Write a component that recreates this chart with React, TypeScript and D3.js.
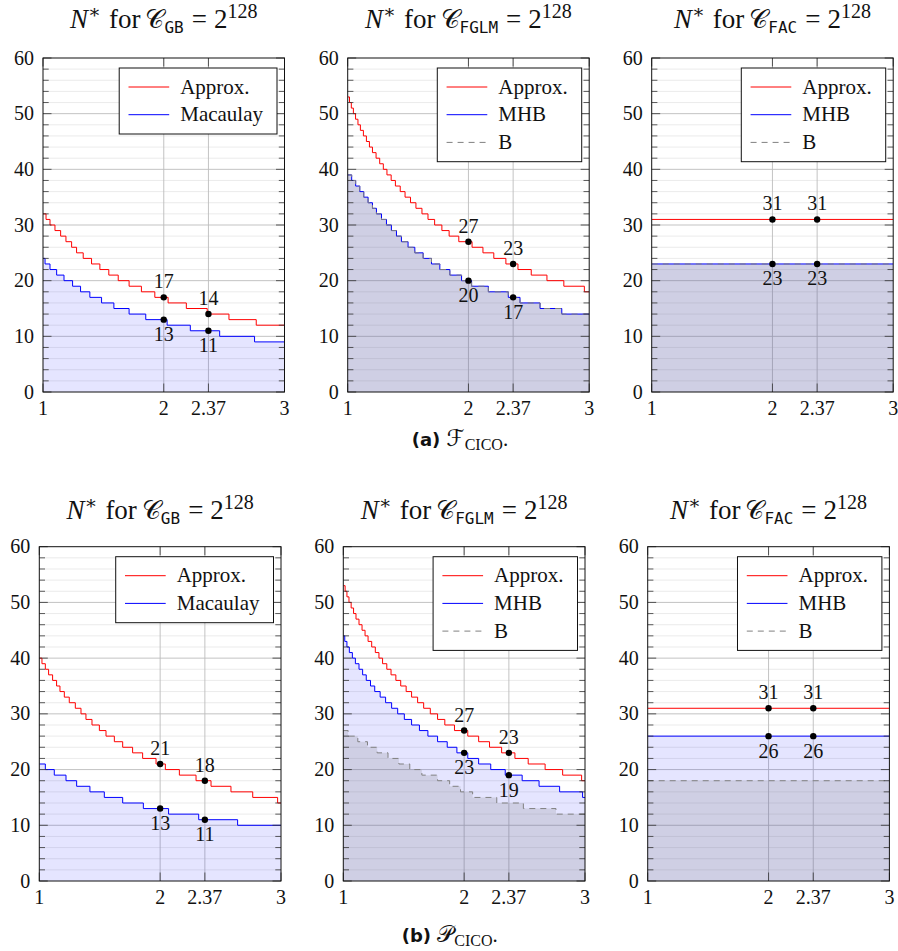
import React from 'react';
import * as d3 from 'd3';

type Pt = [number, number];

const xTickValues = [1, 2, 2.37, 3];
const xTickLabels = ['1', '2', '2.37', '3'];
const yMajorTicks = [0, 10, 20, 30, 40, 50, 60];
const yMinorTicks = [2, 4, 6, 8, 12, 14, 16, 18, 22, 24, 26, 28, 32, 34, 36, 38, 42, 44, 46, 48, 52, 54, 56, 58];
const markXs = [2, 2.37];

// (a) F_CICO : start value at omega = 1, then the omegas where N* drops by one
const gbApproxStartF = 32;
const gbApproxDropsF = [1.025, 1.058, 1.099, 1.146, 1.19, 1.237, 1.278, 1.333, 1.402, 1.471, 1.545, 1.623, 1.713, 1.815, 1.926, 2.036, 2.187, 2.36, 2.54, 2.766];
const gbMacaulayStartF = 24;
const gbMacaulayDropsF = [1.017, 1.058, 1.113, 1.174, 1.245, 1.311, 1.388, 1.485, 1.587, 1.713, 1.851, 2.028, 2.22, 2.463, 2.752];
const fglmApproxStartF = 53;
const fglmApproxDropsF = [1.015, 1.03, 1.047, 1.065, 1.085, 1.105, 1.13, 1.155, 1.18, 1.205, 1.235, 1.265, 1.295, 1.325, 1.36, 1.395, 1.435, 1.475, 1.52, 1.565, 1.615, 1.665, 1.72, 1.78, 1.84, 1.92, 2.03, 2.12, 2.21, 2.31, 2.41, 2.52, 2.65, 2.79, 2.96];
const fglmMhbStartF = 39;
const fglmMhbDropsF = [1.033, 1.066, 1.1, 1.133, 1.169, 1.205, 1.238, 1.28, 1.321, 1.362, 1.404, 1.445, 1.5, 1.556, 1.625, 1.694, 1.763, 1.846, 1.943, 2.026, 2.165, 2.33, 2.427, 2.593, 2.773];
const fglmBStartF = 39; // B lies on MHB here
const fglmBDropsF = [1.033, 1.066, 1.1, 1.133, 1.169, 1.205, 1.238, 1.28, 1.321, 1.362, 1.404, 1.445, 1.5, 1.556, 1.625, 1.694, 1.763, 1.846, 1.943, 2.026, 2.165, 2.33, 2.427, 2.593, 2.773];
const facApproxF = 31;
const facMhbF = 23;
const facBF = 23;
const marksGbF = [[17, 14], [13, 11]];
const marksFglmF = [[27, 23], [20, 17]];
const marksFacF = [[31, 31], [23, 23]];

// (b) P_CICO
const gbApproxStartP = 40;
const gbApproxDropsP = [1.022, 1.05, 1.077, 1.11, 1.143, 1.171, 1.207, 1.248, 1.298, 1.345, 1.386, 1.436, 1.497, 1.552, 1.621, 1.69, 1.772, 1.855, 1.966, 2.043, 2.159, 2.297, 2.421, 2.586, 2.766, 2.972];
const gbMacaulayStartP = 21;
const gbMacaulayDropsP = [1.05, 1.124, 1.221, 1.309, 1.419, 1.538, 1.69, 1.861, 2.07, 2.319, 2.641];
const fglmApproxStartP = 53;
const fglmApproxDropsP = [1.015, 1.03, 1.047, 1.065, 1.085, 1.105, 1.13, 1.155, 1.18, 1.205, 1.235, 1.265, 1.295, 1.325, 1.36, 1.395, 1.435, 1.475, 1.52, 1.565, 1.615, 1.665, 1.72, 1.78, 1.84, 1.92, 2.03, 2.12, 2.21, 2.31, 2.42, 2.53, 2.67, 2.815, 2.972];
const fglmMhbStartP = 44;
const fglmMhbDropsP = [1.012, 1.03, 1.05, 1.075, 1.1, 1.13, 1.16, 1.19, 1.225, 1.26, 1.305, 1.35, 1.4, 1.45, 1.505, 1.565, 1.63, 1.7, 1.78, 1.86, 1.94, 2.03, 2.12, 2.22, 2.34, 2.48, 2.62, 2.79, 2.98];
const fglmBStartP = 27;
const fglmBDropsP = [1.04, 1.12, 1.2, 1.28, 1.37, 1.46, 1.55, 1.65, 1.78, 1.88, 1.97, 2.07, 2.27, 2.49, 2.76];
const facApproxP = 31;
const facMhbP = 26;
const facBP = 18;
const marksGbP = [[21, 18], [13, 11]];
const marksFglmP = [[27, 23], [23, 19]];
const marksFacP = [[31, 31], [26, 26]];

const legendGB = ['Approx.', 'Macaulay'];
const legendOther = ['Approx.', 'MHB', 'B'];

function steps(start: number, drops: number[]): Pt[] {
  const pts: Pt[] = [[1, start]];
  drops.forEach((x, i) => pts.push([x, start - i - 1]));
  pts.push([3, start - drops.length]);
  return pts;
}

const serif = "'Liberation Serif', 'Times New Roman', 'DejaVu Serif', serif";
const RED = '#ff0000';
const BLUE = '#0000ff';
const GRAY = '#808080';

let measureCtx: CanvasRenderingContext2D | null = null;
function textWidth(s: string, font: string) {
  if (!measureCtx) measureCtx = document.createElement('canvas').getContext('2d');
  measureCtx!.font = font;
  return measureCtx!.measureText(s).width;
}

type PanelCfg = {
  sub: string;
  legend: string[];
  approx: Pt[];
  main: Pt[];
  b: Pt[] | null;
  marks: number[][];
};

const panelsA: PanelCfg[] = [
  { sub: 'GB', legend: legendGB, approx: steps(gbApproxStartF, gbApproxDropsF), main: steps(gbMacaulayStartF, gbMacaulayDropsF), b: null, marks: marksGbF },
  { sub: 'FGLM', legend: legendOther, approx: steps(fglmApproxStartF, fglmApproxDropsF), main: steps(fglmMhbStartF, fglmMhbDropsF), b: steps(fglmBStartF, fglmBDropsF), marks: marksFglmF },
  { sub: 'FAC', legend: legendOther, approx: steps(facApproxF, []), main: steps(facMhbF, []), b: steps(facBF, []), marks: marksFacF },
];
const panelsB: PanelCfg[] = [
  { sub: 'GB', legend: legendGB, approx: steps(gbApproxStartP, gbApproxDropsP), main: steps(gbMacaulayStartP, gbMacaulayDropsP), b: null, marks: marksGbP },
  { sub: 'FGLM', legend: legendOther, approx: steps(fglmApproxStartP, fglmApproxDropsP), main: steps(fglmMhbStartP, fglmMhbDropsP), b: steps(fglmBStartP, fglmBDropsP), marks: marksFglmP },
  { sub: 'FAC', legend: legendOther, approx: steps(facApproxP, []), main: steps(facMhbP, []), b: steps(facBP, []), marks: marksFacP },
];

const rows = [
  { top: 58, bottom: 392, lefts: [43, 347.7, 651.7], width: 241.5, titleY: 28, panels: panelsA },
  { top: 546.7, bottom: 881, lefts: [39.3, 343.3, 647.7], width: 241.7, titleY: 519, panels: panelsB },
];

function Title({ cx, y, sub }: { cx: number; y: number; sub: string }) {
  return (
    <text x={cx} y={y} textAnchor="middle" fontFamily={serif} fontSize={27} fill="#111" style={{ whiteSpace: 'pre' }}>
      <tspan fontStyle="italic">N</tspan>
      <tspan dy={-10} fontSize={19}>∗</tspan>
      <tspan dy={10} dx={8}>for</tspan>
      <tspan dx={5} fontFamily="'DejaVu Sans'" fontSize={26}>𝒞</tspan>
      <tspan dy={5} fontSize={16} fontFamily="'DejaVu Sans Mono'">{sub}</tspan>
      <tspan dy={-5} dx={8}>=</tspan>
      <tspan dx={7}>2</tspan>
      <tspan dy={-10} fontSize={20}>128</tspan>
    </text>
  );
}

function Panel({ left, top, bottom, width, titleY, cfg, id }: { left: number; top: number; bottom: number; width: number; titleY: number; cfg: PanelCfg; id: string }) {
  const x = d3.scaleLinear().domain([1, 3]).range([left, left + width]);
  const y = d3.scaleLinear().domain([0, 60]).range([bottom, top]);
  const line = d3.line<Pt>().x(d => x(d[0])).y(d => y(d[1])).curve(d3.curveStepAfter);
  const area = d3.area<Pt>().x(d => x(d[0])).y0(y(0)).y1(d => y(d[1])).curve(d3.curveStepAfter);
  const right = left + width;

  const legFont = `21px ${serif}`;
  const maxW = d3.max(cfg.legend, s => textWidth(s, legFont)) || 0;
  const legW = 61 + maxW + 14;
  const legH = 10.6 + 27.7 * cfg.legend.length;
  const legX = right - 7.5 - legW;
  const legY = top + 10;
  const legStyles = [
    { color: RED, dash: undefined },
    { color: BLUE, dash: undefined },
    { color: GRAY, dash: '6,5' },
  ];

  return (
    <g>
      <defs>
        <clipPath id={id}>
          <rect x={left} y={top} width={width} height={bottom - top} />
        </clipPath>
      </defs>
      <Title cx={(left + right) / 2} y={titleY} sub={cfg.sub} />
      {/* grid */}
      {yMinorTicks.map(t => (
        <line key={'mg' + t} x1={left} x2={right} y1={y(t)} y2={y(t)} stroke="#e6e6e6" strokeWidth={0.8} />
      ))}
      {yMajorTicks.slice(1, -1).map(t => (
        <line key={'Mg' + t} x1={left} x2={right} y1={y(t)} y2={y(t)} stroke="#bcbcbc" strokeWidth={0.9} />
      ))}
      {markXs.map(t => (
        <line key={'vg' + t} x1={x(t)} x2={x(t)} y1={top} y2={bottom} stroke="#bcbcbc" strokeWidth={0.9} />
      ))}
      {/* fills and curves */}
      <g clipPath={`url(#${id})`}>
        <path d={area(cfg.main) || ''} fill={BLUE} fillOpacity={0.1} />
        {cfg.b && <path d={area(cfg.b) || ''} fill={GRAY} fillOpacity={0.21} />}
        <path d={line(cfg.approx) || ''} fill="none" stroke={RED} strokeWidth={1} />
        <path d={line(cfg.main) || ''} fill="none" stroke={BLUE} strokeWidth={1} />
        {cfg.b && <path d={line(cfg.b) || ''} fill="none" stroke={GRAY} strokeWidth={1} strokeDasharray="6,5" />}
      </g>
      {/* ticks */}
      {yMinorTicks.map(t => (
        <g key={'mt' + t}>
          <line x1={left} x2={left + 5.7} y1={y(t)} y2={y(t)} stroke="#333" strokeWidth={0.8} />
          <line x1={right - 5.7} x2={right} y1={y(t)} y2={y(t)} stroke="#333" strokeWidth={0.8} />
        </g>
      ))}
      {yMajorTicks.map(t => (
        <g key={'Mt' + t}>
          <line x1={left} x2={left + 8.5} y1={y(t)} y2={y(t)} stroke="#333" strokeWidth={0.8} />
          <line x1={right - 8.5} x2={right} y1={y(t)} y2={y(t)} stroke="#333" strokeWidth={0.8} />
          <text x={left - 9} y={y(t) + 6.5} textAnchor="end" fontFamily={serif} fontSize={20} fill="#111">{t}</text>
        </g>
      ))}
      {xTickValues.map((t, i) => (
        <g key={'xt' + t}>
          <line x1={x(t)} x2={x(t)} y1={bottom} y2={bottom - 8.5} stroke="#333" strokeWidth={0.8} />
          <line x1={x(t)} x2={x(t)} y1={top} y2={top + 8.5} stroke="#333" strokeWidth={0.8} />
          <text x={x(t)} y={bottom + 23} textAnchor="middle" fontFamily={serif} fontSize={20} fill="#111">{xTickLabels[i]}</text>
        </g>
      ))}
      <rect x={left} y={top} width={width} height={bottom - top} fill="none" stroke="#111" strokeWidth={1} />
      {/* marks */}
      {markXs.map((t, i) => (
        <g key={'mk' + t}>
          <circle cx={x(t)} cy={y(cfg.marks[0][i])} r={3.2} fill="#000" />
          <circle cx={x(t)} cy={y(cfg.marks[1][i])} r={3.2} fill="#000" />
          <text x={x(t)} y={y(cfg.marks[0][i]) - 9} textAnchor="middle" fontFamily={serif} fontSize={20} fill="#111">{cfg.marks[0][i]}</text>
          <text x={x(t)} y={y(cfg.marks[1][i]) + 21.5} textAnchor="middle" fontFamily={serif} fontSize={20} fill="#111">{cfg.marks[1][i]}</text>
        </g>
      ))}
      {/* legend */}
      <rect x={legX} y={legY} width={legW} height={legH} fill="#fff" stroke="#111" strokeWidth={1} />
      {cfg.legend.map((s, i) => {
        const cy = legY + 19 + 27.7 * i;
        return (
          <g key={s}>
            <line x1={legX + 9.3} x2={legX + 50} y1={cy} y2={cy} stroke={legStyles[i].color} strokeWidth={1} strokeDasharray={legStyles[i].dash} />
            <text x={legX + 61} y={cy + 6.5} fontFamily={serif} fontSize={21} fill="#111">{s}</text>
          </g>
        );
      })}
    </g>
  );
}

export default function App() {
  return (
    <div style={{ position: 'absolute', left: 0, top: 0 }}>
      <svg width={898} height={951} style={{ display: 'block', background: '#fff' }}>
        {rows.map((r, ri) =>
          r.panels.map((p, pi) => (
            <Panel key={ri + '-' + pi} id={`clip${ri}${pi}`} left={r.lefts[pi]} top={r.top} bottom={r.bottom} width={r.width} titleY={r.titleY} cfg={p} />
          ))
        )}
        <text x={411.7} y={446} fontSize={21} fill="#111" style={{ whiteSpace: 'pre' }}>
          <tspan fontFamily="'DejaVu Sans'" fontWeight="bold" fontSize={18}>(a) </tspan>
          <tspan fontFamily="'DejaVu Sans'" fontSize={23}>ℱ</tspan>
          <tspan fontFamily={serif} fontSize={16} dy={4}>CICO</tspan>
          <tspan fontFamily={serif} dy={-4}>.</tspan>
        </text>
        <text x={401.7} y={942} fontSize={21} fill="#111" style={{ whiteSpace: 'pre' }}>
          <tspan fontFamily="'DejaVu Sans'" fontWeight="bold" fontSize={18}>(b) </tspan>
          <tspan fontFamily="'DejaVu Sans'" fontSize={23}>𝒫</tspan>
          <tspan fontFamily={serif} fontSize={16} dy={4}>CICO</tspan>
          <tspan fontFamily={serif} dy={-4}>.</tspan>
        </text>
      </svg>
    </div>
  );
}
